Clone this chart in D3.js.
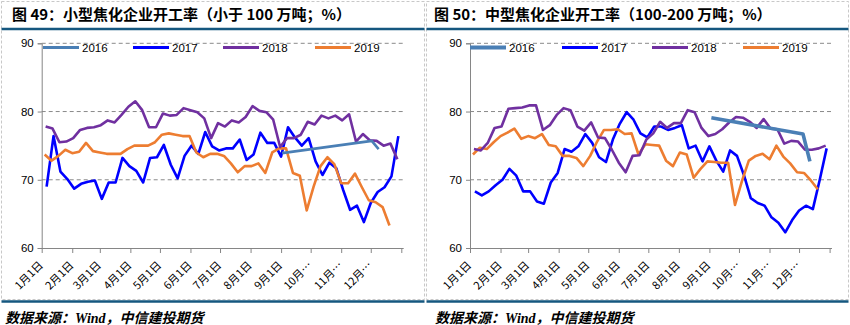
<!DOCTYPE html>
<html>
<head>
<meta charset="utf-8">
<script src="https://cdn.jsdelivr.net/npm/d3@7"></script>
<style>
  body { margin: 0; background: #fff; }
  svg { display: block; }
</style>
</head>
<body>
<div id="chart"></div>
<script>
// tick labels on the x axis (month starts)
const monthLabels = ["1月1日", "2月1日", "3月1日", "4月1日", "5月1日", "6月1日",
  "7月1日", "8月1日", "9月1日", "10月…", "11月…", "12月…"];
const yTicks = [60, 70, 80, 90];
const years = ["2016", "2017", "2018", "2019"];

// first weekly date of each year (mapped onto one calendar year)
const weekStart = { "2017": "01-06", "2018": "01-05", "2019": "01-04" };

// 图49 small coking plants
const small2016Dates = ["09-02", "12-02", "12-09"];
const small2016 = [73.9, 75.7, 74.5];
const small2017 = [69.0, 76.4, 71.2, 70.1, 68.7, 69.4, 69.7, 69.9, 67.2, 69.6, 69.6, 73.2, 72.0,
  71.3, 69.6, 73.2, 73.3, 75.1, 72.2, 70.2, 73.5, 75.0, 73.8, 77.0, 74.9, 74.3, 74.6, 74.6, 75.9,
  72.9, 73.7, 76.9, 75.4, 75.4, 73.4, 77.7, 76.2, 75.0, 76.1, 72.7, 70.7, 72.5, 71.7, 68.5, 65.6,
  66.2, 63.8, 66.6, 68.2, 68.9, 70.5, 76.4];
const small2018 = [77.8, 77.5, 75.5, 75.6, 76.1, 77.3, 77.6, 77.7, 78.0, 78.7, 78.4, 79.5, 80.7,
  81.5, 80.2, 77.7, 77.7, 79.7, 79.4, 79.5, 80.5, 80.2, 79.9, 79.0, 76.1, 78.3, 77.8, 78.7, 78.4,
  79.2, 80.8, 80.1, 79.9, 78.8, 74.8, 76.1, 76.1, 76.6, 78.5, 78.1, 79.4, 79.0, 79.4, 78.7, 79.6,
  75.6, 76.7, 75.8, 75.7, 75.0, 75.3, 73.0];
const small2019 = [73.7, 72.8, 73.5, 74.4, 73.9, 74.1, 75.4, 74.2, 74.0, 73.8, 73.8, 73.8, 74.5,
  75.0, 75.0, 75.0, 75.5, 76.6, 76.8, 76.6, 76.4, 76.4, 74.0, 73.3, 73.8, 73.8, 73.5, 72.4, 71.1,
  72.0, 72.0, 72.4, 71.0, 74.0, 74.6, 74.6, 71.0, 70.6, 65.5, 69.0, 72.0, 73.3, 72.3, 69.5, 69.5,
  70.9, 68.9, 67.0, 66.7, 66.0, 63.3];

// 图50 medium coking plants
const mid2016Dates = ["09-03", "12-05", "12-12"];
const mid2016 = [79.1, 76.7, 72.7];
const mid2017 = [68.3, 67.7, 68.3, 69.2, 70.0, 71.6, 70.6, 68.3, 68.3, 66.8, 66.5, 69.6, 71.0,
  74.5, 74.1, 74.9, 76.7, 75.4, 73.3, 72.6, 75.9, 78.2, 79.9, 78.8, 76.8, 76.2, 77.8, 77.8, 77.3,
  77.6, 78.0, 74.6, 75.0, 72.7, 74.9, 72.8, 71.2, 74.3, 73.5, 70.7, 67.3, 66.6, 66.2, 64.5, 63.7,
  62.3, 64.1, 65.5, 66.2, 65.7, 70.0, 74.6];
const mid2018 = [74.5, 74.3, 75.4, 77.6, 77.8, 80.4, 80.5, 80.6, 80.9, 80.9, 77.3, 78.0, 79.5,
  80.5, 80.2, 77.8, 77.2, 78.4, 76.2, 76.1, 74.4, 72.5, 71.1, 73.5, 73.6, 75.9, 76.8, 78.5, 77.6,
  78.3, 78.3, 80.2, 79.9, 77.6, 76.4, 76.7, 77.4, 78.4, 79.2, 79.1, 78.5, 77.6, 78.9, 77.5, 77.4,
  75.3, 75.7, 75.6, 74.4, 74.4, 74.6, 75.0];
const mid2019 = [73.7, 74.7, 74.5, 75.5, 76.4, 76.9, 77.5, 76.0, 76.4, 76.1, 76.7, 75.1, 74.9,
  73.5, 73.5, 73.2, 72.0, 73.5, 75.6, 77.3, 77.3, 77.4, 76.7, 76.8, 73.7, 75.2, 75.1, 75.0, 72.8,
  72.0, 74.0, 73.7, 70.3, 71.6, 72.7, 72.6, 72.5, 72.5, 66.3, 69.8, 72.8, 73.5, 73.8, 73.0, 75.0,
  73.4, 72.4, 71.1, 71.0, 69.9, 68.6];

const colors = { "2016": "#4a7fb5", "2017": "#0000ff", "2018": "#7030a0", "2019": "#ed7d31" };
const cjk = "'Noto Sans CJK SC', 'Noto Sans', sans-serif";

const W = 850, H = 325;
const svg = d3.select("#chart").append("svg").attr("width", W).attr("height", H);

const parseMD = d3.timeParse("%Y-%m-%d");
const toDate = (md) => parseMD("2019-" + md);

function weekly(values, year) {
  const start = toDate(weekStart[year]);
  return values.map((v, i) => ({ date: d3.timeDay.offset(start, 7 * i), value: v }));
}

function drawPanel(opt) {
  const g = svg.append("g");

  // dashed frame
  g.append("rect")
    .attr("x", opt.frame[0]).attr("y", 1.5)
    .attr("width", opt.frame[1]).attr("height", 298)
    .attr("fill", "none").attr("stroke", "#c8c8c8")
    .attr("stroke-dasharray", "3,2");

  // title
  g.append("text")
    .attr("x", opt.titleX).attr("y", 20)
    .attr("font-family", cjk).attr("font-weight", "bold").attr("font-size", 15)
    .attr("fill", "#000").text(opt.title);

  g.append("line")
    .attr("x1", opt.frame[0]).attr("x2", opt.frame[0] + opt.frame[1])
    .attr("y1", 29).attr("y2", 29)
    .attr("stroke", "#15577f").attr("stroke-width", 2.5);
  g.append("line")
    .attr("x1", opt.frame[0]).attr("x2", opt.frame[0] + opt.frame[1])
    .attr("y1", 301.5).attr("y2", 301.5)
    .attr("stroke", "#15577f").attr("stroke-width", 2.5);

  // footer
  g.append("text")
    .attr("x", opt.footX).attr("y", 323)
    .attr("font-family", "'Liberation Serif', 'Noto Sans CJK SC', serif")
    .attr("font-weight", "bold").attr("font-style", "italic").attr("font-size", 14)
    .attr("fill", "#000").text("数据来源：Wind，中信建投期货");

  const x = d3.scaleTime()
    .domain([toDate("01-01"), parseMD("2020-01-01")])
    .range([opt.x0, opt.x0 + 359.6]);
  const y = d3.scaleLinear().domain([60, 90]).range([248, 43.3]);

  // gridlines
  g.append("g").selectAll("line")
    .data(yTicks.filter((t) => t > 60))
    .enter().append("line")
    .attr("x1", opt.x0).attr("x2", opt.x0 + 362)
    .attr("y1", (d) => y(d)).attr("y2", (d) => y(d))
    .attr("stroke", "#8a8a8a").attr("stroke-dasharray", "4,3");

  // y axis
  const yAxis = g.append("g")
    .attr("transform", `translate(${opt.x0},0)`)
    .call(d3.axisLeft(y).tickValues(yTicks).tickSize(4).tickPadding(4));
  yAxis.select(".domain").attr("stroke", "#868686");
  yAxis.selectAll(".tick line").attr("stroke", "#868686");
  yAxis.selectAll("text").attr("font-family", "'Liberation Sans', Arial, sans-serif")
    .attr("font-size", 11.5).attr("fill", "#000");

  // x axis
  const monthTicks = d3.timeMonth.range(toDate("01-01"), parseMD("2020-01-02"));
  const xAxis = g.append("g")
    .attr("transform", "translate(0,248)")
    .call(d3.axisBottom(x).tickValues(monthTicks).tickSize(5).tickSizeOuter(0).tickFormat(""));
  xAxis.select(".domain").attr("stroke", "#868686")
    .attr("d", `M${opt.x0},0.5H${opt.x0 + 362}`);
  xAxis.selectAll(".tick line").attr("stroke", "#868686");

  g.append("g").selectAll("text")
    .data(monthLabels)
    .enter().append("text")
    .attr("transform", (d, i) => `translate(${x(monthTicks[i]) + 2},${266}) rotate(-45)`)
    .attr("text-anchor", "end")
    .attr("font-family", cjk).attr("font-size", 11)
    .attr("fill", "#000")
    .text((d) => d);

  const line = d3.line().x((d) => x(d.date)).y((d) => y(d.value));

  const series = [
    { year: "2016", pts: opt.s2016.map((v, i) => ({ date: toDate(opt.s2016Dates[i]), value: v })) },
    { year: "2017", pts: weekly(opt.s2017, "2017") },
    { year: "2018", pts: weekly(opt.s2018, "2018") },
    { year: "2019", pts: weekly(opt.s2019, "2019") },
  ];

  const order = ["2017", "2019", "2018", "2016"];
  order.forEach((yr) => {
    const s = series.find((d) => d.year === yr);
    g.append("path").datum(s.pts)
      .attr("fill", "none")
      .attr("stroke", colors[yr])
      .attr("stroke-width", yr === "2016" ? opt.w2016 : 2.6)
      .attr("stroke-linejoin", "round")
      .attr("d", line);
  });

  // legend
  const leg = g.append("g").selectAll("g")
    .data(years).enter().append("g")
    .attr("transform", (d, i) => `translate(${opt.legendX[i]},47.5)`);
  leg.append("line").attr("x1", 0).attr("x2", 36)
    .attr("stroke", (d) => colors[d])
    .attr("stroke-width", (d) => (d === "2016" ? opt.w2016 + 0.4 : 2.8));
  leg.append("text").attr("x", 39).attr("y", 4)
    .attr("font-family", "'Liberation Sans', Arial, sans-serif").attr("font-size", 11.5)
    .attr("fill", "#000").text((d) => d);
}

drawPanel({
  frame: [1.5, 423], x0: 41.7, titleX: 12, footX: 5,
  title: "图 49：小型焦化企业开工率（小于 100 万吨；%）",
  legendX: [43, 133, 223, 315], w2016: 2.6,
  s2016Dates: small2016Dates, s2016: small2016,
  s2017: small2017, s2018: small2018, s2019: small2019,
});

drawPanel({
  frame: [426.5, 422], x0: 470, titleX: 434, footX: 435,
  title: "图 50：中型焦化企业开工率（100-200 万吨；%）",
  legendX: [470, 562, 652, 743], w2016: 3.6,
  s2016Dates: mid2016Dates, s2016: mid2016,
  s2017: mid2017, s2018: mid2018, s2019: mid2019,
});
</script>
</body>
</html>
